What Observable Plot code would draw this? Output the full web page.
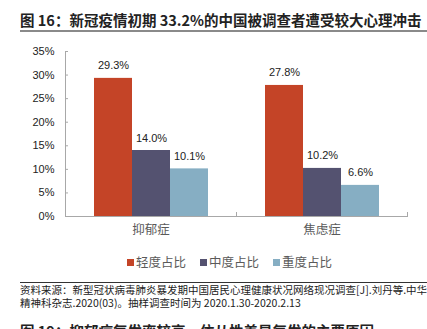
<!DOCTYPE html>
<html>
<head>
<meta charset="utf-8">
<script src="https://cdn.jsdelivr.net/npm/d3@7"></script>
<script src="https://cdn.jsdelivr.net/npm/@observablehq/plot@0.6"></script>
<style>
  html, body { margin: 0; padding: 0; background: #fff; }
  #page { position: relative; width: 427px; height: 329px; overflow: hidden; font-family: "Noto Sans CJK SC", "Noto Sans", sans-serif; }
  .abs { position: absolute; white-space: nowrap; }
  #title { left: 20px; top: 10px; font-size: 14.5px; line-height: 20px; font-weight: bold; color: #222; }
  #uline { left: 20px; top: 30px; width: 407px; height: 2px; background: #8a8a8a; }
  #chart { left: 0; top: 38px; }
  #legend { left: 127px; top: 254px; display: flex; font-size: 12.5px; line-height: 16px; color: #5a5a5a; }
  #legend .item { display: flex; align-items: center; margin-right: 14px; }
  #legend .sw { width: 7px; height: 7px; margin-right: 2px; }
  #sep { left: 20px; top: 282px; width: 407px; height: 1px; background: #333; }
  .src { left: 20px; font-size: 10.5px; line-height: 12px; height: 12px; color: #222; }
  #next { left: 20px; top: 323px; font-size: 14.5px; line-height: 16px; font-weight: bold; color: #222; }
</style>
</head>
<body>
<div id="page">
  <div id="title" class="abs"></div>
  <div id="uline" class="abs"></div>
  <div id="chart" class="abs"></div>
  <div id="legend" class="abs"></div>
  <div id="sep" class="abs"></div>
  <div id="src1" class="abs src" style="top:284px"></div>
  <div id="src2" class="abs src" style="top:296.5px"></div>
  <div id="next" class="abs"></div>
</div>
<script>
const titleText = "图 16：新冠疫情初期 33.2%的中国被调查者遭受较大心理冲击";
const categories = ["抑郁症", "焦虑症"];
const series = ["轻度占比", "中度占比", "重度占比"];
const mild = [29.3, 27.8];
const moderate = [14.0, 10.2];
const severe = [10.1, 6.6];
const colors = ["#c44427", "#545270", "#86aec3"];
const yTicks = [0, 5, 10, 15, 20, 25, 30, 35];
const sourceLines = [
  "资料来源：新型冠状病毒肺炎暴发期中国居民心理健康状况网络现况调查[J].刘丹等.中华",
  "精神科杂志.2020(03)。抽样调查时间为 2020.1.30-2020.2.13"
];
const nextTitle = "图 19：抑郁症复发率较高，依从性差是复发的主要原因";

const seriesValues = [mild, moderate, severe];
const data = categories.flatMap((c, i) =>
  series.map((s, j) => ({cat: c, series: s, value: seriesValues[j][i]}))
);

document.getElementById("title").textContent = titleText;
document.getElementById("src1").textContent = sourceLines[0];
document.getElementById("src2").textContent = sourceLines[1];
document.getElementById("next").textContent = nextTitle;

const legend = document.getElementById("legend");
series.forEach((s, j) => {
  const item = document.createElement("div");
  item.className = "item";
  const sw = document.createElement("div");
  sw.className = "sw";
  sw.style.background = colors[j];
  const t = document.createElement("span");
  t.textContent = s;
  item.appendChild(sw);
  item.appendChild(t);
  legend.appendChild(item);
});

const axisColor = "#a8a8a8";
const chart = Plot.plot({
  width: 427,
  height: 205,
  marginTop: 13,
  marginBottom: 27,
  marginLeft: 65,
  marginRight: 20,
  style: {fontFamily: "'Liberation Sans', Arial, sans-serif", fontSize: "11px", color: "#222", background: "transparent"},
  fx: {domain: categories, padding: 0, axis: null, label: null},
  x: {domain: series, padding: 0, insetLeft: 28, insetRight: 28, axis: null},
  y: {domain: [0, 35], axis: null},
  color: {domain: series, range: colors},
  marks: [
    Plot.barY(data, {fx: "cat", x: "series", y: "value", fill: "series"}),
    Plot.text(data, {fx: "cat", x: "series", y: "value", text: d => d.value.toFixed(1) + "%", lineAnchor: "bottom", dy: -9, fill: "#222", fontSize: 11}),
    Plot.ruleY([0], {stroke: axisColor}),
    Plot.frame({anchor: "left", facetAnchor: "left", stroke: axisColor}),
    Plot.frame({anchor: "left", insetTop: 161, stroke: axisColor}),
    Plot.frame({anchor: "right", facetAnchor: "right", insetTop: 161, stroke: axisColor}),
    Plot.axisY(yTicks, {tickSize: -3, tickPadding: 14, stroke: axisColor, tickFormat: d => d + "%", fontSize: 11, fill: "#222", label: null}),
    Plot.axisFx({anchor: "bottom", tickSize: 0, tickPadding: 9, fontSize: 12.5, fill: "#5a5a5a", fontFamily: "'Noto Sans CJK SC', sans-serif", label: null})
  ]
});
document.getElementById("chart").appendChild(chart);
</script>
</body>
</html>
